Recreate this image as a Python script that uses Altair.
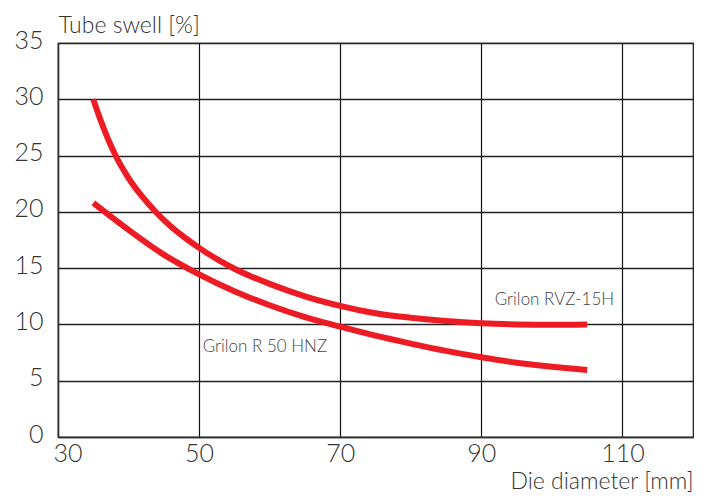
import altair as alt
import pandas as pd

# Grilon RVZ-15H
die_rvz = [35, 36, 38, 40, 42, 44, 46, 48, 50, 55, 60, 65, 70, 75, 80, 85, 90, 95, 100, 105]
swell_rvz = [30, 28.2, 25.2, 23.0, 21.3, 19.9, 18.7, 17.7, 16.8, 14.95, 13.6, 12.5, 11.65, 11.0, 10.6, 10.3, 10.1, 10.0, 9.97, 10.0]
# Grilon R 50 HNZ
die_hnz = [35, 40, 45, 50, 55, 60, 65, 70, 75, 80, 85, 90, 95, 100, 105]
swell_hnz = [20.8, 18.4, 16.2, 14.45, 12.95, 11.7, 10.65, 9.8, 9.0, 8.3, 7.65, 7.08, 6.6, 6.25, 5.95]

label_text = ["Grilon RVZ-15H", "Grilon R 50 HNZ"]
label_die = [91.9, 50.5]
label_swell = [11.73, 7.58]

x_ticks = [30, 50, 70, 90, 110]
y_ticks = [0, 5, 10, 15, 20, 25, 30, 35]

FONT = "Lato"
TXT = "#333333"

df = pd.concat([
    pd.DataFrame({"die": die_rvz, "swell": swell_rvz, "series": "Grilon RVZ-15H"}),
    pd.DataFrame({"die": die_hnz, "swell": swell_hnz, "series": "Grilon R 50 HNZ"}),
])
labels = pd.DataFrame({"text": label_text, "die": label_die, "swell": label_swell})

xscale = alt.Scale(domain=[30, 120], nice=False, zero=False)
yscale = alt.Scale(domain=[0, 35], nice=False)

lines = alt.Chart(df).mark_line(
    color="#ed1c24", strokeWidth=6, interpolate="monotone", strokeCap="butt"
).encode(
    x=alt.X("die:Q", scale=xscale, axis=alt.Axis(
        values=x_ticks, grid=True, gridColor="#111111", gridWidth=1.2,
        domainColor="#333333", domainWidth=1.5, ticks=False,
        labelFontSize=25, labelFont=FONT, labelColor=TXT, labelPadding=4,
        labelFlush=True, labelFlushOffset=5, labelFontWeight=300,
        title="Die diameter [mm]", titleFont=FONT, titleFontSize=23,
        titleFontWeight=300, titleColor=TXT, titleX=635, titleY=51,
        titleAlign="right", titleBaseline="alphabetic", titleAnchor="end",
    )),
    y=alt.Y("swell:Q", scale=yscale, axis=alt.Axis(
        values=y_ticks, grid=True, gridColor="#222222", gridWidth=1.5,
        domainColor="#333333", domainWidth=1.5, ticks=False,
        labelFontSize=25, labelFont=FONT, labelColor=TXT, labelPadding=15,
        labelBaseline="alphabetic", labelOffset=5, labelFlush=False,
        labelFontWeight=300,
        title="Tube swell [%]", titleFont=FONT, titleFontSize=23,
        titleFontWeight=300, titleColor=TXT, titleAngle=0, titleX=0,
        titleY=-11, titleAlign="left", titleBaseline="alphabetic",
    )),
    detail="series:N",
)

texts = alt.Chart(labels).mark_text(
    align="left", baseline="alphabetic", font=FONT, fontSize=17,
    fontWeight=300, color="#444444",
).encode(
    x=alt.X("die:Q", scale=xscale),
    y=alt.Y("swell:Q", scale=yscale),
    text="text:N",
)

chart = alt.layer(lines, texts).properties(
    width=635, height=394,
    autosize=alt.AutoSizeParams(type="none"),
    padding={"left": 50, "top": 35, "right": 8, "bottom": 58},
).configure_view(stroke="#111111", strokeWidth=1.2)

chart.save("out.html", embed_options={"renderer": "svg", "actions": False})
